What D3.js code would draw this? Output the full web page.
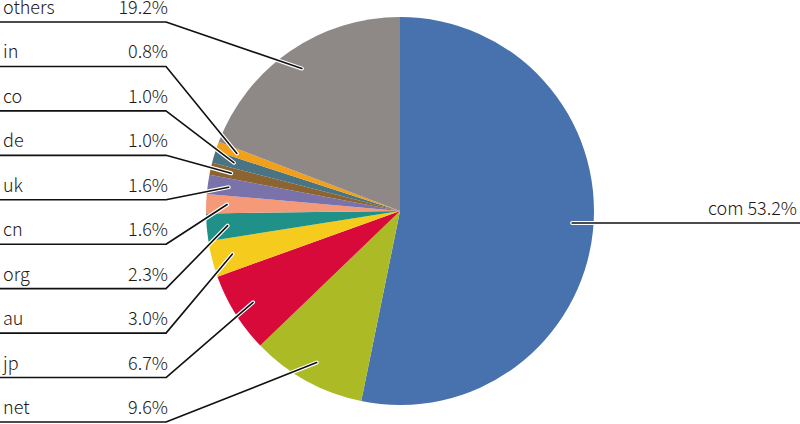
<!DOCTYPE html>
<html><head><meta charset="utf-8">
<script src="https://cdn.jsdelivr.net/npm/d3@7/dist/d3.min.js"></script>
<style>body{margin:0;background:#fff}svg{display:block}text{font-family:"Noto Sans CJK JP","Noto Sans",sans-serif;fill:#231815;font-size:18px;font-weight:300}</style>
</head><body><svg id="c" width="800" height="424"></svg>
<script>
const categories = ["com","net","jp","au","org","cn","uk","de","co","in","others"];
const values = [53.2,9.6,6.7,3.0,2.3,1.6,1.6,1.0,1.0,0.8,19.2];
const colors = ["#4872AE","#ABBA25","#D70A3A","#F5CB1E","#1F9189","#F49A78","#7A72AA","#8B6431","#4A7383","#F1A01C","#8E8886"];
const leftOrder = ["others","in","co","de","uk","cn","org","au","jp","net"];

const svg = d3.select("#c");
const cx = 400, cy = 211, R = 194;
const data = categories.map((c,i)=>({cat:c, v:values[i], color:colors[i]}));
const pie = d3.pie().value(d=>d.v).sort(null);
const arcs = pie(data);
const arc = d3.arc().innerRadius(0).outerRadius(R);
const g = svg.append("g").attr("transform",`translate(${cx},${cy})`);
g.selectAll("path").data(arcs).join("path").attr("d",arc).attr("fill",d=>d.data.color);

const rowY = d3.scalePoint().domain(leftOrder).range([22,422]);
const lab = svg.append("g");
function pt(a, r){ const m=(a.startAngle+a.endAngle)/2; return [cx+r*Math.sin(m), cy-r*Math.cos(m)]; }
arcs.forEach(a=>{
  const p = pt(a,173);
  let pts;
  const pctTxt = a.data.v.toFixed(1)+"%";
  if(a.data.cat==="com"){
    const y = cy + 12;
    pts=[[p[0],y],[800,y]];
    lab.append("text").attr("x",797).attr("y",y-8).attr("text-anchor","end").text(a.data.cat+" "+pctTxt);
  } else {
    const y=rowY(a.data.cat);
    pts=[p,[166,y],[0,y]];
    lab.append("text").attr("x",3).attr("y",y-8).text(a.data.cat);
    lab.append("text").attr("x",168).attr("y",y-8).attr("text-anchor","end").text(pctTxt);
  }
  const ln=d3.line();
  lab.append("path").attr("d",ln(pts)).attr("fill","none").attr("stroke","#fff").attr("stroke-width",4).attr("stroke-linecap","round").attr("stroke-linejoin","round");
  lab.append("path").attr("d",ln(pts)).attr("fill","none").attr("stroke","#111").attr("stroke-width",1.6).attr("stroke-linecap","round").attr("stroke-linejoin","round");
});
</script></body></html>
